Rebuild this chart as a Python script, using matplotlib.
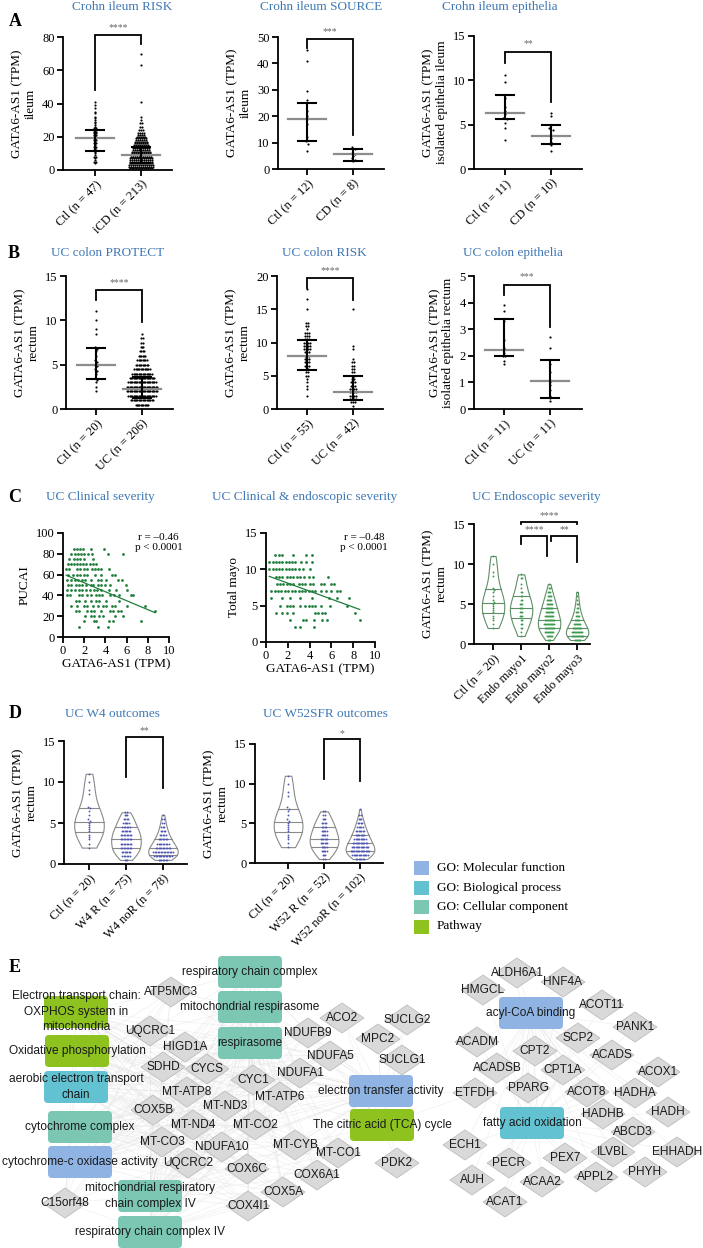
import numpy as np
import matplotlib
matplotlib.use("Agg")
import matplotlib.pyplot as plt
from matplotlib.patches import Polygon, FancyBboxPatch, Rectangle

plt.rcParams["font.family"] = "serif"
plt.rcParams["font.serif"] = ["Liberation Serif", "DejaVu Serif"]

W, H = 703, 1248
TITLE_BLUE = "#3f78b5"
SANS = "Liberation Sans"

# ---------------- data: A (Crohn ileum) ----------------
risk_ctl = [41, 39, 37, 35, 34, 32, 31, 30, 29, 28, 27, 26, 25, 25, 24, 24, 23, 23,
            22, 22, 21, 21, 20, 20, 19, 19, 18, 18, 17, 16, 16, 15, 14, 14, 13, 12,
            12, 11, 10, 9, 8, 8, 7, 6, 5, 5, 4]
risk_icd_levels = [1, 2, 3, 4, 5, 6, 7, 8, 9, 10, 11, 12, 13, 14, 15, 16, 17, 18, 19,
                   20, 21, 22, 24, 26, 28, 30, 32, 41, 63, 70]
risk_icd_counts = [12, 13, 13, 12, 12, 12, 12, 11, 11, 10, 10, 9, 9, 8, 8, 7, 7, 6, 6,
                   5, 4, 4, 3, 2, 2, 1, 1, 1, 1, 1]
source_ctl = [45, 41, 29.5, 26, 22, 20, 19, 17, 12, 10.5, 9.5, 7]
source_cd = [8.5, 7.5, 6, 5.5, 5, 4, 3.5, 3]
epi_il_ctl = [10.6, 9.8, 8.0, 7.0, 6.5, 6.2, 5.8, 5.6, 5.2, 4.6, 3.3]
epi_il_cd = [6.3, 6.0, 5.0, 4.6, 4.4, 3.8, 3.5, 3.0, 2.7, 2.0]

# ---------------- data: B (UC colon) ----------------
protect_ctl = [11, 10, 9, 8.5, 7, 6.8, 6.5, 6, 5.5, 5.3, 5, 4.8, 4.5, 4.3, 4, 3.5,
               3.3, 3, 2.5, 2]
protect_uc_levels = [0.5, 1.0, 1.5, 2.0, 2.5, 3.0, 3.5, 4.0, 4.5, 5.0, 5.5, 6.0, 6.5,
                     7.0, 7.5, 8.0, 8.5]
protect_uc_counts = [11, 18, 22, 24, 24, 22, 20, 16, 13, 10, 8, 6, 4, 3, 2, 2, 1]
colrisk_ctl_levels = [18, 16.5, 15, 13, 12.5, 12, 11.5, 11, 10.5, 10, 9.5, 9, 8.5, 8,
                      7.5, 7, 6.5, 6, 5.5, 5, 4.5, 4, 3.5, 3, 2]
colrisk_ctl_counts = [1, 1, 1, 2, 2, 1, 3, 3, 3, 4, 4, 4, 3, 3, 3, 3, 3, 2, 2, 2, 1, 1,
                      1, 1, 1]
colrisk_uc_levels = [15, 9.5, 9, 7.5, 7, 6.5, 6, 5.5, 5, 4.5, 4, 3.5, 3, 2.5, 2, 1.5,
                     1, 0.5]
colrisk_uc_counts = [1, 1, 1, 1, 2, 2, 2, 2, 2, 2, 3, 3, 4, 4, 4, 4, 3, 1]
epi_co_ctl = [3.9, 3.7, 3.3, 2.6, 2.3, 2.2, 2.1, 2.0, 2.0, 1.8, 1.7]
epi_co_uc = [2.7, 2.3, 1.7, 1.4, 1.1, 1.0, 0.9, 0.7, 0.5, 0.4, 0.3]

# centre line, lower bar, upper bar
stats_A = {"risk": [(19, 11.5, 24), (9, 4, 14)],
           "source": [(19, 10.5, 25), (5.5, 3, 7.5)],
           "epi": [(6.3, 5.6, 8.4), (3.7, 2.8, 5.0)]}
stats_B = {"protect": [(5.0, 3.4, 6.9), (2.3, 1.2, 3.6)],
           "risk": [(8.0, 5.8, 10.4), (2.5, 1.3, 4.9)],
           "epi": [(2.2, 2.0, 3.4), (1.05, 0.4, 1.85)]}

# ---------------- data: C (severity) ----------------
pucai_rows = {
    85: [1.0, 1.3, 1.6, 1.9, 2.6, 3.9],
    80: [0.8, 1.1, 1.4, 1.7, 2.0, 2.4, 2.7, 4.2, 5.7],
    75: [0.6, 1.0, 1.3, 1.6, 2.0, 2.8],
    70: [0.5, 0.8, 1.0, 1.3, 1.6, 1.9, 2.2, 2.5, 2.8, 3.1],
    65: [0.3, 0.6, 1.3, 1.6, 2.0, 2.3, 2.7, 3.0, 3.3, 3.6, 4.3],
    60: [0.5, 0.9, 1.3, 1.6, 2.0, 2.3, 3.0, 3.6, 4.6, 4.9],
    55: [0.4, 0.8, 1.1, 1.4, 1.8, 2.1, 2.6, 3.3, 3.6, 4.1, 5.2, 5.6],
    50: [0.5, 0.8, 1.2, 1.5, 1.8, 2.2, 2.6, 2.8, 3.3, 3.6, 4.0, 4.4, 5.9],
    45: [0.4, 0.8, 1.1, 1.5, 1.8, 2.2, 2.5, 2.9, 3.2, 3.6, 4.3, 5.0, 6.0],
    40: [0.4, 0.7, 1.5, 1.8, 2.3, 2.6, 3.1, 3.4, 3.7, 4.4, 4.8, 5.3, 6.4, 6.6],
    35: [1.2, 1.5, 2.1, 2.6, 3.1, 3.4, 4.1, 5.3],
    30: [0.8, 1.3, 2.0, 2.3, 2.8, 3.3, 3.8, 4.1, 4.6, 4.9, 6.0, 7.7],
    25: [1.2, 1.5, 2.3, 2.6, 2.9, 3.6, 4.4, 4.7, 5.2, 5.5, 8.7],
    20: [2.1, 2.6, 2.9, 3.4, 3.8, 4.9, 5.7],
    15: [2.0, 2.9, 3.1, 4.3, 4.7, 7.4],
    10: [1.5, 3.3, 4.2],
}
mayo_rows = {
    12: [0.85, 1.2, 1.5, 2.5, 3.7, 4.2],
    11: [0.3, 0.6, 0.9, 1.2, 1.5, 1.8, 2.1, 2.4, 2.7, 3.2, 3.7, 4.2],
    10: [0.3, 0.6, 0.9, 1.2, 1.5, 1.8, 2.1, 2.4, 2.7, 3.0, 3.4, 4.0],
    9: [0.9, 1.2, 1.5, 1.9, 2.2, 2.5, 2.8, 3.1, 3.5, 3.9, 4.3, 5.7],
    8: [1.0, 1.3, 1.6, 1.9, 2.2, 2.5, 3.0, 3.3, 3.6, 4.0, 4.3, 5.0, 5.3, 6.0, 6.2],
    7: [0.5, 0.8, 1.1, 1.4, 1.7, 2.0, 2.4, 2.7, 3.0, 3.3, 3.6, 3.9, 4.2, 4.5, 5.0,
        5.5, 6.0, 6.5, 6.8],
    6: [0.5, 1.5, 2.2, 3.1, 4.2, 5.8, 6.5, 7.6],
    5: [1.3, 1.9, 2.2, 2.5, 3.1, 3.6, 3.9, 4.2, 4.5, 5.0, 5.9, 7.4],
    4: [0.9, 1.5, 1.9, 2.5, 4.5, 4.8, 5.1, 5.4, 8.2],
    3: [2.2, 3.4, 3.7, 4.4, 5.1, 5.6, 8.6],
    2: [2.7, 3.1, 4.4],
}
endo_labels = ["Ctl (n = 20)", "Endo mayo1", "Endo mayo2", "Endo mayo3"]
mayo1_levels = [8.7, 8.2, 7.5, 7.0, 6.5, 6.0, 5.5, 5.0, 4.5, 4.0, 3.5, 3.0, 2.5, 2.0, 1.5, 1.0]
mayo1_counts = [1, 2, 1, 1, 2, 2, 2, 3, 3, 3, 3, 2, 2, 2, 1, 1]
mayo2_levels = [7.5, 7.0, 6.5, 6.0, 5.5, 5.0, 4.5, 4.0, 3.5, 3.0, 2.5, 2.0, 1.5, 1.0, 0.5]
mayo2_counts = [1, 2, 3, 4, 5, 6, 7, 8, 9, 10, 11, 10, 9, 6, 3]
mayo3_levels = [6.5, 6.0, 5.5, 5.0, 4.5, 4.0, 3.5, 3.0, 2.5, 2.0, 1.5, 1.0, 0.5]
mayo3_counts = [1, 1, 1, 2, 2, 3, 4, 5, 7, 9, 11, 12, 6]

# ---------------- data: D (outcomes) ----------------
w4_labels = ["Ctl (n = 20)", "W4 R (n = 75)", "W4 noR (n = 78)"]
w52_labels = ["Ctl (n = 20)", "W52 R (n = 52)", "W52 noR (n = 102)"]
w4r_levels = [6.3, 6.0, 5.5, 5.0, 4.5, 4.0, 3.5, 3.0, 2.5, 2.0, 1.5, 1.0, 0.5]
w4r_counts = [2, 3, 4, 5, 6, 7, 8, 8, 8, 8, 7, 6, 3]
w4n_levels = [6.0, 5.5, 5.0, 4.5, 4.0, 3.5, 3.0, 2.5, 2.0, 1.5, 1.0, 0.5]
w4n_counts = [1, 2, 2, 3, 4, 5, 7, 9, 11, 14, 13, 7]
w52r_levels = [6.5, 6.0, 5.5, 5.0, 4.5, 4.0, 3.5, 3.0, 2.5, 2.0, 1.5, 1.0, 0.5]
w52r_counts = [2, 2, 3, 4, 4, 5, 5, 6, 6, 5, 5, 3, 2]
w52n_levels = [6.8, 6.0, 5.5, 5.0, 4.5, 4.0, 3.5, 3.0, 2.5, 2.0, 1.5, 1.0, 0.5]
w52n_counts = [1, 2, 3, 4, 5, 7, 8, 10, 12, 14, 16, 13, 7]

# ---------------- data: E (network) ----------------
term_colors = {"MF": "#8fb4e3", "BP": "#62c2d2", "CC": "#7cc7b4", "PW": "#8dc21f"}
legend_items = [("GO: Molecular function", "MF"), ("GO: Biological process", "BP"),
                ("GO: Cellular component", "CC"), ("Pathway", "PW")]
terms = {
    "respiratory chain complex": (250, 972, "CC"),
    "mitochondrial respirasome": (250, 1007, "CC"),
    "respirasome": (250, 1043, "CC"),
    "Electron transport chain:\nOXPHOS system in\nmitochondria": (76, 1012, "PW"),
    "Oxidative phosphorylation": (77, 1051, "PW"),
    "aerobic electron transport\nchain": (76, 1087, "BP"),
    "cytochrome complex": (80, 1127, "CC"),
    "cytochrome-c oxidase activity": (80, 1162, "MF"),
    "mitochondrial respiratory\nchain complex IV": (150, 1196, "CC"),
    "respiratory chain complex IV": (150, 1232, "CC"),
    "electron transfer activity": (381, 1091, "MF"),
    "The citric acid (TCA) cycle": (382, 1125, "PW"),
    "acyl-CoA binding": (531, 1013, "MF"),
    "fatty acid oxidation": (532, 1123, "BP"),
}
genes = {
    "ATP5MC3": (171, 992), "UQCRC1": (150, 1031), "HIGD1A": (185, 1047),
    "SDHD": (163, 1067), "CYCS": (207, 1069), "CYC1": (253, 1080),
    "NDUFA1": (300, 1073), "MT-ATP8": (187, 1092), "MT-ATP6": (280, 1097),
    "COX5B": (153, 1110), "MT-ND3": (225, 1106), "MT-ND4": (193, 1125),
    "MT-CO2": (255, 1125), "MT-CO3": (162, 1142), "NDUFA10": (222, 1147),
    "MT-CYB": (295, 1145), "UQCRC2": (188, 1163), "COX6C": (247, 1169),
    "COX6A1": (317, 1175), "COX5A": (283, 1192), "COX4I1": (248, 1206),
    "C15orf48": (65, 1203), "ACO2": (342, 1018), "SUCLG2": (407, 1020),
    "MPC2": (378, 1039), "NDUFB9": (308, 1033), "NDUFA5": (330, 1056),
    "SUCLG1": (402, 1060), "MT-CO1": (338, 1153), "PDK2": (397, 1163),
    "ALDH6A1": (517, 973), "HNF4A": (563, 982), "HMGCL": (483, 990),
    "ACOT11": (602, 1005), "PANK1": (635, 1027), "ACADM": (477, 1042),
    "SCP2": (578, 1038), "CPT2": (535, 1051), "ACADS": (612, 1055),
    "ACADSB": (497, 1068), "CPT1A": (563, 1070), "ACOX1": (658, 1072),
    "ETFDH": (475, 1093), "PPARG": (528, 1088), "ACOT8": (587, 1092),
    "HADHA": (635, 1093), "HADHB": (603, 1114), "HADH": (668, 1112),
    "ABCD3": (633, 1132), "ECH1": (465, 1145), "ILVBL": (613, 1152),
    "EHHADH": (677, 1152), "PECR": (509, 1163), "PEX7": (565, 1158),
    "APPL2": (596, 1177), "PHYH": (645, 1172), "AUH": (472, 1180),
    "ACAA2": (542, 1182), "ACAT1": (505, 1202),
}
term_groups = {
    "oxphos": ["respiratory chain complex", "mitochondrial respirasome", "respirasome",
               "Electron transport chain:\nOXPHOS system in\nmitochondria",
               "Oxidative phosphorylation", "aerobic electron transport\nchain",
               "cytochrome complex", "cytochrome-c oxidase activity",
               "mitochondrial respiratory\nchain complex IV",
               "respiratory chain complex IV", "electron transfer activity"],
    "tca": ["The citric acid (TCA) cycle", "electron transfer activity"],
    "fao": ["acyl-CoA binding", "fatty acid oxidation"],
}
gene_groups = {
    "oxphos": ["ATP5MC3", "UQCRC1", "HIGD1A", "SDHD", "CYCS", "CYC1", "NDUFA1",
               "MT-ATP8", "MT-ATP6", "COX5B", "MT-ND3", "MT-ND4", "MT-CO2", "MT-CO3",
               "NDUFA10", "MT-CYB", "UQCRC2", "COX6C", "COX6A1", "COX5A", "COX4I1",
               "C15orf48", "NDUFB9", "NDUFA5", "MT-CO1"],
    "tca": ["ACO2", "SUCLG2", "MPC2", "SUCLG1", "PDK2", "SDHD", "NDUFA1", "NDUFB9",
            "NDUFA5", "MT-CYB", "ETFDH"],
    "fao": ["ALDH6A1", "HNF4A", "HMGCL", "ACOT11", "PANK1", "ACADM", "SCP2", "CPT2",
            "ACADS", "ACADSB", "CPT1A", "ACOX1", "ETFDH", "PPARG", "ACOT8", "HADHA",
            "HADHB", "HADH", "ABCD3", "ECH1", "ILVBL", "EHHADH", "PECR", "PEX7",
            "APPL2", "PHYH", "AUH", "ACAA2", "ACAT1"],
}


# ---------------- helpers ----------------
def px_axes(fig, left, top, right, bottom):
    return fig.add_axes([left / W, 1 - bottom / H, (right - left) / W, (bottom - top) / H])


def style(ax, labelsize=9):
    for s in ("top", "right"):
        ax.spines[s].set_visible(False)
    for s in ("left", "bottom"):
        ax.spines[s].set_linewidth(1.3)
    ax.tick_params(width=1.3, length=4, labelsize=labelsize, pad=2)


def swarm(values, step, dx):
    values = np.asarray(values, float)
    bins = np.round(values / step)
    xs = np.zeros_like(values)
    for b in np.unique(bins):
        idx = np.where(bins == b)[0]
        xs[idx] = (np.arange(len(idx)) - (len(idx) - 1) / 2) * dx
    return xs


def bracket(ax, x1, x2, ytop, y1, y2, stars, dy):
    ax.plot([x1, x1, x2, x2], [y1, ytop, ytop, y2], color="k", lw=1.3,
            clip_on=False, solid_joinstyle="miter")
    ax.text((x1 + x2) / 2, ytop + dy, stars, ha="center", va="bottom",
            fontsize=7, color="#666666")


def dot_panel(ax, groups, stats, step, dx, ylim, yticks, xlim, labels, ylabel):
    for i, vals in enumerate(groups):
        xs = swarm(vals, step, dx) + i
        ax.scatter(xs, vals, s=2.4, color="k", lw=0, zorder=3, clip_on=False)
        c, lo, hi = stats[i]
        ax.plot([i - 0.42, i + 0.42], [c, c], color="#8c8c8c", lw=1.6, zorder=4)
        ax.plot([i, i], [lo, hi], color="k", lw=1.5, zorder=4)
        for v in (lo, hi):
            ax.plot([i - 0.19, i + 0.19], [v, v], color="k", lw=1.5, zorder=4)
    ax.set_xlim(*xlim)
    ax.set_ylim(*ylim)
    ax.set_yticks(yticks)
    ax.set_xticks(range(len(groups)))
    ax.set_xticklabels(labels, rotation=45, ha="right", rotation_mode="anchor", fontsize=8.5)
    ax.set_ylabel(ylabel, fontsize=9.5, linespacing=1.1)
    style(ax)


def violin_panel(ax, groups, edge, dot, xlim, labels, ylabel, dx):
    parts = ax.violinplot(groups, positions=range(len(groups)), widths=0.8,
                          showextrema=False)
    for i, body in enumerate(parts["bodies"]):
        body.set_facecolor("white")
        body.set_edgecolor(edge)
        body.set_linewidth(0.8)
        body.set_alpha(1)
        verts = body.get_paths()[0].vertices
        right = verts[verts[:, 0] >= i]
        order = np.argsort(right[:, 1])
        for q in np.percentile(groups[i], [25, 50, 75]):
            half = np.interp(q, right[order, 1], right[order, 0]) - i
            ax.plot([i - half, i + half], [q, q], color=edge, lw=0.8, zorder=3)
        vals = np.asarray(groups[i], float)
        ax.scatter(swarm(vals, 0.3, dx) + i, vals, s=1.8, color=dot, lw=0, zorder=4)
    ax.set_xlim(*xlim)
    ax.set_ylim(0, 15)
    ax.set_yticks([0, 5, 10, 15])
    ax.set_xticks(range(len(groups)))
    ax.set_xticklabels(labels, rotation=45, ha="right", rotation_mode="anchor", fontsize=6.5)
    ax.set_ylabel(ylabel, fontsize=9.5, linespacing=1.1)
    style(ax)


def scatter_panel(ax, rows, color, ylim, yticks, ylabel, rtext):
    x = np.concatenate([rows[k] for k in rows])
    y = np.concatenate([[k] * len(rows[k]) for k in rows])
    ax.scatter(x, y, s=4, color=color, marker="o", lw=0, zorder=3)
    slope, icpt = np.polyfit(x, y, 1)
    xx = np.array([x.min(), x.max()])
    ax.plot(xx, slope * xx + icpt, color=color, lw=0.9, zorder=2)
    ax.set_xlim(0, 10)
    ax.set_ylim(*ylim)
    ax.set_xticks([0, 2, 4, 6, 8, 10])
    ax.set_yticks(yticks)
    ax.set_xlabel("GATA6-AS1 (TPM)", fontsize=9.5, labelpad=1)
    ax.set_ylabel(ylabel, fontsize=9.5)
    ax.text(0.9, 1.0, rtext, transform=ax.transAxes, ha="center", va="top",
            fontsize=8, linespacing=1.2)
    style(ax)


# ---------------- figure ----------------
fig = plt.figure(figsize=(W / 100, H / 100), dpi=100)
bg = fig.add_axes([0, 0, 1, 1])
bg.set_xlim(0, W)
bg.set_ylim(H, 0)
bg.axis("off")

for letter, (x, y) in {"A": (15, 21), "B": (14, 253), "C": (15, 497),
                       "D": (15, 713), "E": (15, 967)}.items():
    bg.text(x, y, letter, fontsize=13, fontweight="bold", ha="center", va="center")

titles = [("Crohn ileum RISK", 122, 7), ("Crohn ileum SOURCE", 321, 7),
          ("Crohn ileum epithelia", 500, 7), ("UC colon PROTECT", 108, 253),
          ("UC colon RISK", 324, 253), ("UC colon epithelia", 513, 253),
          ("UC Clinical severity", 100, 497), ("UC Clinical & endoscopic severity", 305, 497),
          ("UC Endoscopic severity", 536, 497), ("UC W4 outcomes", 112, 714),
          ("UC W52SFR outcomes", 325, 714)]
for text, x, y in titles:
    bg.text(x, y, text, color=TITLE_BLUE, fontsize=9.5, ha="center", va="center")

# A
ax = px_axes(fig, 63, 37, 172, 170)
dot_panel(ax, [risk_ctl, np.repeat(risk_icd_levels, risk_icd_counts)], stats_A["risk"],
          1.0, 0.045, (0, 80), [0, 20, 40, 60, 80], (-0.696, 1.674),
          ["Ctl (n = 47)", "iCD (n = 213)"], "GATA6-AS1 (TPM)\nileum")
bracket(ax, 0, 1, 81.5, 48, 76, "****", 1.5)

ax = px_axes(fig, 278, 37, 384, 169)
dot_panel(ax, [source_ctl, source_cd], stats_A["source"], 1.0, 0.06, (0, 50),
          [0, 10, 20, 30, 40, 50], (-0.63, 1.67), ["Ctl (n = 12)", "CD (n = 8)"],
          "GATA6-AS1 (TPM)\nileum")
bracket(ax, 0, 1, 49.3, 46, 12.8, "***", 1.2)

ax = px_axes(fig, 474, 36, 582, 169)
dot_panel(ax, [epi_il_ctl, epi_il_cd], stats_A["epi"], 0.3, 0.07, (0, 15),
          [0, 5, 10, 15], (-0.674, 1.674), ["Ctl (n = 11)", "CD (n = 10)"],
          "GATA6-AS1 (TPM)\nisolated epithelia ileum")
bracket(ax, 0, 1, 13.2, 12.0, 7.6, "**", 0.4)

# B
ax = px_axes(fig, 66, 276, 173, 409)
dot_panel(ax, [protect_ctl, np.repeat(protect_uc_levels, protect_uc_counts)],
          stats_B["protect"], 0.5, 0.028, (0, 15), [0, 5, 10, 15], (-0.652, 1.674),
          ["Ctl (n = 20)", "UC (n = 206)"], "GATA6-AS1 (TPM)\nrectum")
bracket(ax, 0, 1, 13.4, 12.3, 9.8, "****", 0.4)

ax = px_axes(fig, 277, 276, 383, 409)
dot_panel(ax, [np.repeat(colrisk_ctl_levels, colrisk_ctl_counts),
               np.repeat(colrisk_uc_levels, colrisk_uc_counts)],
          stats_B["risk"], 0.5, 0.05, (0, 20), [0, 5, 10, 15, 20], (-0.652, 1.652),
          ["Ctl (n = 55)", "UC (n = 42)"], "GATA6-AS1 (TPM)\nrectum")
bracket(ax, 0, 1, 19.7, 18.2, 16.4, "****", 0.5)

ax = px_axes(fig, 474, 276, 582, 409)
dot_panel(ax, [epi_co_ctl, epi_co_uc], stats_B["epi"], 0.1, 0.06, (0, 5),
          [0, 1, 2, 3, 4, 5], (-0.652, 1.696), ["Ctl (n = 11)", "UC (n = 11)"],
          "GATA6-AS1 (TPM)\nisolated epithelia rectum")
bracket(ax, 0, 1, 4.66, 4.3, 3.1, "***", 0.15)

# C
GREEN = "#1f7f3b"
ax = px_axes(fig, 63, 533, 169, 637)
scatter_panel(ax, pucai_rows, GREEN, (0, 100), [0, 20, 40, 60, 80, 100], "PUCAI",
              "r = \u20130.46\np < 0.0001")
ax = px_axes(fig, 266, 533, 375, 642)
scatter_panel(ax, mayo_rows, GREEN, (0, 15), [0, 5, 10, 15], "Total mayo",
              "r = \u20130.48\np < 0.0001")

ax = px_axes(fig, 474, 524, 590, 644)
violin_panel(ax, [protect_ctl, np.repeat(mayo1_levels, mayo1_counts),
                  np.repeat(mayo2_levels, mayo2_counts),
                  np.repeat(mayo3_levels, mayo3_counts)],
             "#5f8f68", "#3a9a4c", (-0.68, 3.46), endo_labels,
             "GATA6-AS1 (TPM)\nrectum", 0.035)
bracket(ax, 1, 3, 15.3, 15.0, 15.0, "****", 0.2)
bracket(ax, 1, 1.93, 13.5, 12.5, 11.0, "****", 0.2)
bracket(ax, 2.07, 3, 13.5, 12.9, 10.2, "**", 0.2)

# D
PURPLE = "#4e58b3"
ax = px_axes(fig, 64, 741, 187, 864)
violin_panel(ax, [protect_ctl, np.repeat(w4r_levels, w4r_counts),
                  np.repeat(w4n_levels, w4n_counts)],
             "#8a8a8a", PURPLE, (-0.676, 2.65), w4_labels, "GATA6-AS1 (TPM)\nrectum", 0.04)
bracket(ax, 1, 2, 15.5, 10.6, 9.3, "**", 0.2)

ax = px_axes(fig, 255, 744, 383, 863)
violin_panel(ax, [protect_ctl, np.repeat(w52r_levels, w52r_counts),
                  np.repeat(w52n_levels, w52n_counts)],
             "#8a8a8a", PURPLE, (-0.92, 2.64), w52_labels, "GATA6-AS1 (TPM)\nrectum", 0.035)
bracket(ax, 1, 2, 15.6, 10.6, 10.3, "*", 0.2)

# legend
for k, (label, kind) in enumerate(legend_items):
    y = 868 + 19.5 * k
    bg.add_patch(Rectangle((414, y - 7), 15, 14, color=term_colors[kind], lw=0))
    bg.text(437, y, label, fontsize=9.5, va="center", ha="left")

# E network
for grp, tlist in term_groups.items():
    for t in tlist:
        tx, ty, _ = terms[t]
        for g in gene_groups[grp]:
            gx, gy = genes[g]
            bg.plot([tx, gx], [ty, gy], color="#e4e4e4", lw=0.5, alpha=0.55, zorder=1)

for t, (x, y, kind) in terms.items():
    bg.add_patch(FancyBboxPatch((x - 30, y - 14), 60, 28,
                                boxstyle="round,pad=2,rounding_size=4",
                                fc=term_colors[kind], ec="none", zorder=2))
for g, (x, y) in genes.items():
    bg.add_patch(Polygon([(x - 22, y), (x, y - 15), (x + 22, y), (x, y + 15)],
                         closed=True, fc="#d9d9d9", ec="#bdbdbd", lw=0.6, zorder=3))
LINE_H = 15.5
for t, (x, y, kind) in terms.items():
    lines = t.split("\n")
    for j, line in enumerate(lines):
        yy = y + (j - (len(lines) - 1) / 2) * LINE_H
        bg.text(x, yy, line, fontsize=8.6, family=SANS, ha="center", va="center",
                color="#1a1a1a", zorder=5)
for g, (x, y) in genes.items():
    bg.text(x, y, g, fontsize=8.6, family=SANS, ha="center", va="center",
            color="#1a1a1a", zorder=5)

fig.savefig("out.png", dpi=100)
